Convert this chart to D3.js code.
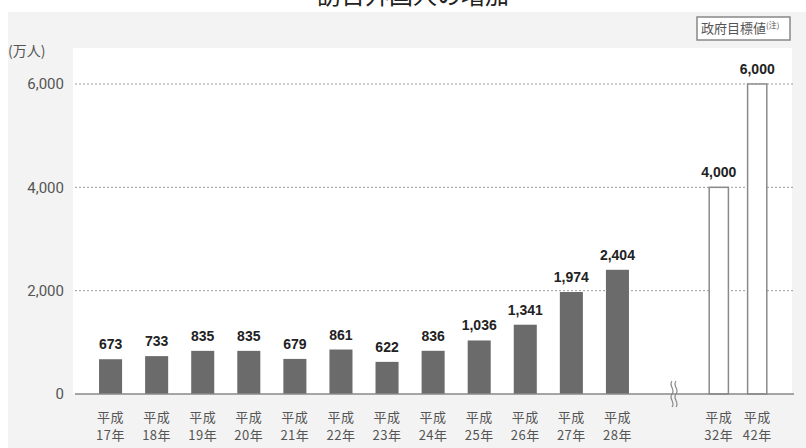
<!DOCTYPE html>
<html>
<head>
<meta charset="utf-8">
<script src="https://cdn.jsdelivr.net/npm/d3@7"></script>
<style>
  body { margin: 0; background: #fff; }
  svg { display: block; font-family: "Noto Sans CJK JP", "Noto Sans", sans-serif; }
</style>
</head>
<body>
<div id="chart"></div>
<script>
// actual visitors (万人)
var years = ['17', '18', '19', '20', '21', '22', '23', '24', '25', '26', '27', '28'];
var visitors = [673, 733, 835, 835, 679, 861, 622, 836, 1036, 1341, 1974, 2404];
// government targets
var targetYears = ['32', '42'];
var targets = [4000, 6000];
var yTicks = [0, 2000, 4000, 6000];

var W = 806, H = 448;

var svg = d3.select("#chart").append("svg")
    .attr("width", W)
    .attr("height", H);

// backgrounds
svg.append("rect").attr("x", 8).attr("y", 12).attr("width", W - 8).attr("height", H - 12).style("fill", "#f3f3f3");
svg.append("rect").attr("x", 73).attr("y", 48).attr("width", 719).attr("height", 346).style("fill", "#fff");

// title (cut off at the top edge, as in the original)
svg.append("text")
    .attr("x", 413).attr("y", 4)
    .style("text-anchor", "middle")
    .style("font-size", "24px")
    .style("fill", "#222")
    .text("訪日外国人の増加");

var y = d3.scaleLinear()
    .domain([0, 6000])
    .range([394, 84]);

var x = d3.scaleBand()
    .domain(years)
    .range([76, 652])
    .padding(0.5);

var xt = d3.scaleBand()
    .domain(targetYears)
    .range([690, 786])
    .padding(0.5);

// gridlines
svg.selectAll("line.grid")
    .data(yTicks.filter(d => d > 0))
    .enter().append("line")
    .attr("class", "grid")
    .attr("x1", 75).attr("x2", 794)
    .attr("y1", d => y(d)).attr("y2", d => y(d))
    .style("stroke", "#999")
    .style("stroke-width", 1)
    .style("stroke-dasharray", "2 2");

// y axis labels
var yAxis = d3.axisLeft(y)
    .tickValues(yTicks)
    .tickSize(0)
    .tickPadding(0)
    .tickFormat(d3.format(","));

svg.append("g")
    .attr("transform", "translate(64,0)")
    .call(yAxis)
    .call(g => g.select(".domain").remove())
    .selectAll("text")
    .style("font-family", "Roboto, sans-serif")
    .style("font-size", "15px")
    .style("fill", "#555");

svg.append("text")
    .attr("x", 8).attr("y", 56)
    .style("font-size", "14px")
    .style("fill", "#555")
    .text("(万人)");

// actual bars
svg.selectAll(".bar")
    .data(visitors)
    .enter().append("rect")
    .attr("class", "bar")
    .attr("x", (d, i) => x(years[i]))
    .attr("width", x.bandwidth())
    .attr("y", d => y(d))
    .attr("height", d => y(0) - y(d))
    .style("fill", "#6b6b6b");

// target bars
svg.selectAll(".tbar")
    .data(targets)
    .enter().append("rect")
    .attr("class", "tbar")
    .attr("x", (d, i) => xt(targetYears[i]))
    .attr("width", xt.bandwidth())
    .attr("y", d => y(d))
    .attr("height", d => y(0) - y(d))
    .style("fill", "#fff")
    .style("stroke", "#8a8a8a")
    .style("stroke-width", 1.5);

// value labels
svg.selectAll(".val")
    .data(visitors)
    .enter().append("text")
    .attr("x", (d, i) => x(years[i]) + x.bandwidth() / 2)
    .attr("y", d => y(d) - 10)
    .style("text-anchor", "middle")
    .style("font-family", "Liberation Sans, Arial, sans-serif")
    .style("font-size", "14px")
    .style("font-weight", "bold")
    .style("fill", "#222")
    .text(d => d3.format(",")(d));

svg.selectAll(".tval")
    .data(targets)
    .enter().append("text")
    .attr("x", (d, i) => xt(targetYears[i]) + xt.bandwidth() / 2)
    .attr("y", d => y(d) - 10)
    .style("text-anchor", "middle")
    .style("font-family", "Liberation Sans, Arial, sans-serif")
    .style("font-size", "14px")
    .style("font-weight", "bold")
    .style("fill", "#222")
    .text(d => d3.format(",")(d));

// baseline
svg.append("line")
    .attr("x1", 75).attr("x2", 794)
    .attr("y1", y(0)).attr("y2", y(0))
    .style("stroke", "#888")
    .style("stroke-width", 1.5);

// break mark
svg.append("path")
    .attr("d", "M672,381 c-4,5 4,8 0,13 c-4,5 4,8 0,13 M676,381 c-4,5 4,8 0,13 c-4,5 4,8 0,13")
    .style("fill", "none")
    .style("stroke", "#888")
    .style("stroke-width", 1.2);

// x labels
function xLabels(scale, data) {
    var g = svg.append("g").selectAll("text")
        .data(data)
        .enter().append("text")
        .attr("x", d => scale(d) + scale.bandwidth() / 2)
        .style("text-anchor", "middle")
        .style("font-size", "13px")
        .style("letter-spacing", "0.5px")
        .style("fill", "#555");
    g.append("tspan").attr("x", d => scale(d) + scale.bandwidth() / 2).attr("y", 422).text("平成");
    g.append("tspan").attr("x", d => scale(d) + scale.bandwidth() / 2).attr("y", 440).text(d => d + "年");
}
xLabels(x, years);
xLabels(xt, targetYears);

// target legend box
svg.append("rect")
    .attr("x", 697).attr("y", 17)
    .attr("width", 93).attr("height", 23)
    .style("fill", "#fff")
    .style("stroke", "#888")
    .style("stroke-width", 1.5);

var lt = svg.append("text")
    .attr("x", 701).attr("y", 33)
    .style("font-size", "13px")
    .style("fill", "#555")
    .text("政府目標値");
lt.append("tspan").attr("dy", -5).style("font-size", "8px").text("(注)");
</script>
</body>
</html>
